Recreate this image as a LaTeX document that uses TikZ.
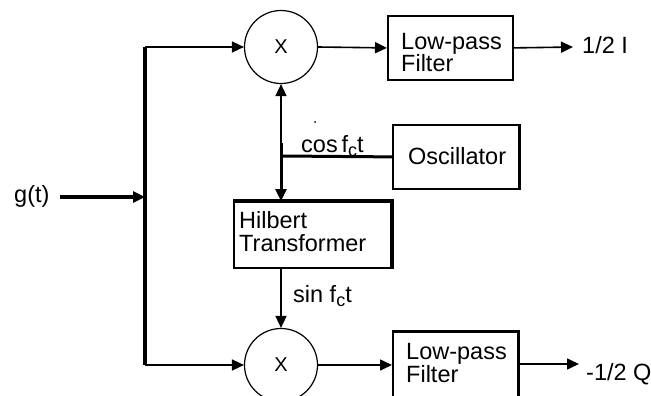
\documentclass[tikz,border=0pt]{standalone}
\usepackage{fontspec}
\setmainfont{Liberation Sans}
\usetikzlibrary{arrows.meta}
\tikzset{
  blk/.style={draw, line width=1.8pt, inner sep=0pt, anchor=north west},
  mult/.style={circle, draw, line width=1.2pt, minimum size=73pt, inner sep=0pt,
    font=\fontsize{20}{20}\selectfont},
  arr/.style={-{Triangle[length=12pt,width=11pt]}, line width=1.6pt},
  lbl/.style={font=\fontsize{23.5}{23.5}\selectfont, inner sep=0pt, anchor=base west},
  bus/.style={line width=3.5pt},
}
\newcommand{\subc}{\raisebox{-4pt}{\fontsize{18}{18}\selectfont c}}
\begin{document}
\begin{tikzpicture}[x=1pt,y=-1pt]
\useasboundingbox (0,0) rectangle (651,396);
\clip (0,0) rectangle (651,396);
\fill[white] (0,0) rectangle (651,396);

% multipliers
\node[mult] (m1) at (281,47) {X};
\node[mult] (m2) at (281,365) {X};

% boxes
\node[blk, minimum width=125pt, minimum height=64pt] (lp1) at (387,15) {};
\node[blk, minimum width=125pt, minimum height=66pt] (lp2) at (392,331) {};
\node[blk, minimum width=126pt, minimum height=64pt] (osc) at (392,124) {};
\node[blk, minimum width=157pt, minimum height=66pt] (hil) at (233,201) {};

% thicker edges
\draw[line width=3.5pt] (hil.north west) -- (hil.north east) -- (hil.south east);
\draw[line width=3pt] (osc.north east) -- (osc.south east);
\draw[line width=3pt] (lp2.north west) -- (lp2.north east) -- (lp2.south east);

% texts
\node[lbl] (t1a) at (401,50) {Low-pass};
\node[lbl] (t1b) at (401,72) {Filter};
\node[lbl] (t2a) at (406,359) {Low-pass};
\node[lbl] (t2b) at (406,382) {Filter};
\node[lbl] (tosc) at (408,164) {Oscillator};
\node[lbl] (th1) at (239,228) {Hilbert};
\node[lbl] (th2) at (239,251) {Transformer};
\node[lbl] (tg) at (14,202) {g(t)};
\node[lbl] (tI) at (582,54) {1/2 I};
\node[lbl] (tQ) at (586,380) {-1/2 Q};
\node[lbl] (tcos) at (301,152) {cos\,f\subc t};
\node[lbl] (tsin) at (293,302) {sin f\subc t};

% coordinates
\coordinate (in) at (60,197);
\coordinate (bj) at (145,197);
\coordinate (b1) at (145,47);
\coordinate (b2) at (145,365);
\coordinate (o1) at (573,47);
\coordinate (o2) at (579,364);
\coordinate (j) at (281,156);
\coordinate (jt) at (281,143);

% connectors
\draw[bus] (b1) -- (b2);
\draw[arr, line width=3.5pt] (in) -- (bj);
\draw[arr] (b1) -- (m1.west);
\draw[arr] (b2) -- (m2.west);
\draw[arr] (m1.east) -- (lp1.west);
\draw[arr] (m2.east) -- (lp2.west |- m2.east);
\draw[arr] (lp1.east) -- (o1);
\draw[arr] (lp2.east |- o2) -- (o2);
\draw[line width=3pt] (osc.west) -- (j);
\draw[arr] (j) -- (m1.south);
\draw[arr, line width=3pt] (jt) -- (jt |- hil.north);
\draw[arr] (m2.north |- hil.south) -- (m2.north);

% stray dot
\fill (315,122) circle (1pt);
\end{tikzpicture}
\end{document}
